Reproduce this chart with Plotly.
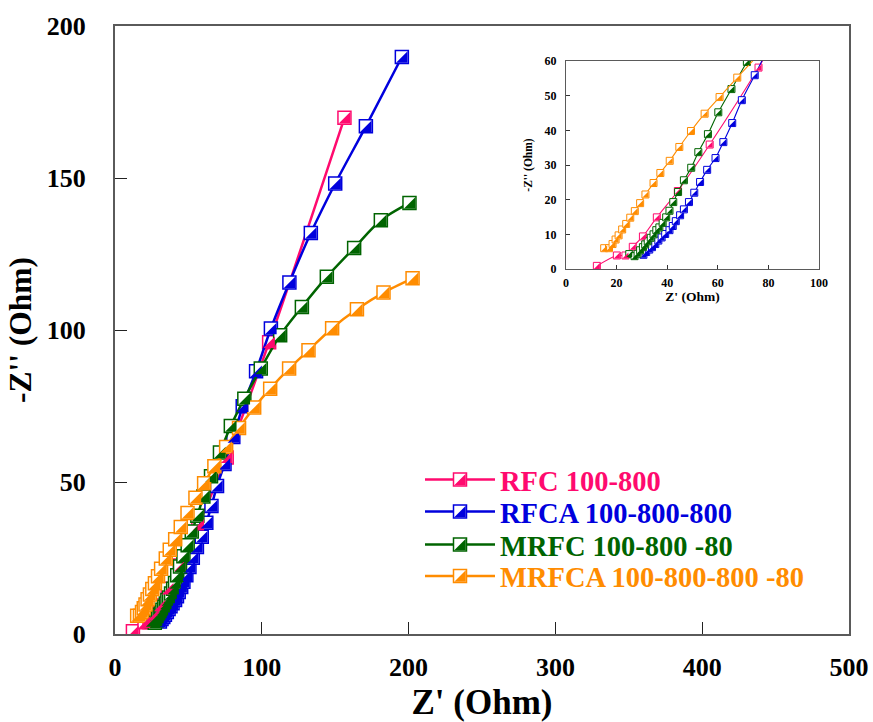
import plotly.graph_objects as go

# ---------------- data ----------------
series_names = ["RFC 100-800", "RFCA 100-800-800", "MRFC 100-800 -80", "MRFCA 100-800-800 -80"]
series_colors = ["#ff0a6e", "#0000dd", "#006400", "#ff8c00"]

rfc_x = [12.2, 20.1, 23.5, 26.4, 30.4, 35.9, 44.2, 56.8, 76.1, 105.0, 156.3]
rfc_y = [0.9, 3.9, 3.9, 6.4, 9.4, 14.9, 22.5, 35.9, 58.1, 96.0, 169.8]

rfca_x = [30.6, 31.7, 32.9, 34.0, 35.3, 36.5, 37.8, 39.2, 40.9, 42.2, 43.4, 45.1, 46.6, 48.6, 50.7,
          53.0, 55.8, 59.1, 62.2, 65.7, 69.5, 74.6, 80.6, 87.0, 96.1, 106.2, 118.8, 133.4, 150.0,
          170.9, 195.4]
rfca_y = [4.1, 4.9, 5.6, 6.3, 7.2, 8.2, 9.1, 10.1, 11.2, 12.4, 13.8, 15.5, 17.2, 19.3, 22.0,
          25.1, 28.6, 32.0, 36.6, 42.1, 48.7, 55.9, 64.8, 74.9, 86.4, 100.5, 115.6, 131.9, 148.2,
          167.0, 189.8]

mrfc_x = [25.0, 27.1, 28.3, 29.3, 30.4, 31.3, 32.3, 33.5, 34.6, 35.7, 36.9, 38.2, 39.6, 40.9, 42.4,
          44.3, 46.6, 49.5, 52.3, 56.1, 60.2, 65.4, 71.5, 78.9, 88.1, 99.3, 112.5, 127.3, 144.3,
          162.9, 181.1, 200.6]
mrfc_y = [4.3, 3.7, 4.4, 5.4, 6.3, 7.1, 8.0, 9.0, 10.0, 11.2, 12.0, 13.3, 14.9, 16.8, 19.3,
          22.2, 25.6, 29.2, 33.7, 38.9, 45.2, 51.9, 59.7, 68.4, 77.4, 87.3, 98.3, 107.6, 117.5,
          127.0, 136.1, 141.8]

mrfca_x = [15.1, 17.0, 18.4, 19.6, 20.8, 22.2, 23.8, 25.4, 27.2, 29.3, 31.4, 34.6, 37.3, 41.0, 44.8,
           49.4, 54.8, 60.7, 67.7, 75.7, 84.5, 94.8, 105.7, 118.6, 131.8, 147.9, 164.8, 182.9, 202.7]
mrfca_y = [6.0, 6.0, 7.2, 8.5, 9.7, 11.4, 13.0, 14.8, 16.7, 19.0, 21.5, 24.8, 27.7, 31.2, 35.2,
           39.8, 44.8, 49.6, 55.2, 61.5, 67.8, 74.5, 80.7, 87.3, 93.3, 100.6, 106.8, 112.3, 117.0]

main_x_ticks = [0, 100, 200, 300, 400, 500]
main_y_ticks = [0, 50, 100, 150, 200]
inset_x_ticks = [0, 20, 40, 60, 80, 100]
inset_y_ticks = [0, 10, 20, 30, 40, 50, 60]

xs = [rfc_x, rfca_x, mrfc_x, mrfca_x]
ys = [rfc_y, rfca_y, mrfc_y, mrfca_y]

# ---------------- layout geometry (page pixels, body margin removed) ----------------
W, H = 873, 722
PL, PR, PT, PB = 115, 849, 26, 634   # plot area on the page
ML, MT, MR, MB = PL, PT, W - PR, H - PB
PW, PH = PR - PL, PB - PT
MAIN_X = [0, 500]
MAIN_Y = [0, 200]
INSET_X = [0, 100]
INSET_Y = [0, 60]
IN_L, IN_R, IN_T, IN_B = 566, 819, 61, 269
IN_DX = [(IN_L - PL) / PW, (IN_R - PL) / PW]
IN_DY = [(PB - IN_B) / PH, (PB - IN_T) / PH]
IPW, IPH = IN_R - IN_L, IN_B - IN_T

FONT = "Liberation Serif"

# half-filled square markers: white square + right triangle (triangle-se),
# triangle-se of size s has legs 0.9*s and its right angle sits s/3.6 px
# from the centre, so it is drawn on overlay axes shifted by a few pixels.
S_MAIN, LW_MAIN = 13, 1.5
S_IN, LW_IN = 7, 1.0


def tri_size(s, lw):
    leg = s - lw
    return leg / 0.9, leg / 6.0  # marker size, pixel shift (right & down)


TS_MAIN, SH_MAIN = tri_size(S_MAIN, LW_MAIN)
TS_IN, SH_IN = tri_size(S_IN, LW_IN)

# legend rows (page y of each row's centre line)
LEG_ROWS = [480, 512, 545, 576.5]
LEG_LEFT = 420

fig = go.Figure()

for i in range(4):
    c = series_colors[i]
    fig.add_trace(go.Scatter(
        x=xs[i], y=ys[i], mode="lines+markers", xaxis="x", yaxis="y",
        name="<b><span style='color:%s'>%s</span></b>" % (c, series_names[i]),
        legend="legend" if i == 0 else "legend%d" % (i + 1),
        line=dict(color=c, width=2.5, shape="spline", smoothing=0.8),
        marker=dict(symbol="square", size=S_MAIN, color="white",
                    line=dict(color=c, width=LW_MAIN)),
        showlegend=True))
    fig.add_trace(go.Scatter(
        x=xs[i], y=ys[i], mode="lines+markers", xaxis="x2", yaxis="y2",
        line=dict(color=c, width=1.1, shape="spline", smoothing=0.8),
        marker=dict(symbol="square", size=S_IN, color="white",
                    line=dict(color=c, width=LW_IN)),
        showlegend=False))

for i in range(4):
    c = series_colors[i]
    fig.add_trace(go.Scatter(
        x=xs[i], y=ys[i], mode="markers", xaxis="x3", yaxis="y3",
        name="",
        legend="legend%d" % (i + 5),
        marker=dict(symbol="triangle-se", size=TS_MAIN, color=c, line=dict(width=0)),
        showlegend=True, hoverinfo="skip"))
    fig.add_trace(go.Scatter(
        x=xs[i], y=ys[i], mode="markers", xaxis="x4", yaxis="y4",
        marker=dict(symbol="triangle-se", size=TS_IN, color=c, line=dict(width=0)),
        showlegend=False, hoverinfo="skip"))

# pixel shifts converted to data units (shift right and down)
mdx = SH_MAIN * (MAIN_X[1] - MAIN_X[0]) / PW
mdy = SH_MAIN * (MAIN_Y[1] - MAIN_Y[0]) / PH
idx = SH_IN * (INSET_X[1] - INSET_X[0]) / IPW
idy = SH_IN * (INSET_Y[1] - INSET_Y[0]) / IPH

axis_line = dict(showline=True, linecolor="#5a5a5a", mirror=True, showgrid=False, zeroline=False,
                 automargin=False)


def legend_box(px, py):
    return dict(x=(px - PL) / PW, y=(PB - py) / PH, xanchor="left", yanchor="middle",
                bgcolor="rgba(0,0,0,0)", borderwidth=0, itemwidth=70,
                font=dict(size=28.5, family=FONT))


legends = {}
for i in range(4):
    key = "legend" if i == 0 else "legend%d" % (i + 1)
    legends[key] = legend_box(LEG_LEFT, LEG_ROWS[i])
    legends["legend%d" % (i + 5)] = legend_box(LEG_LEFT + SH_MAIN, LEG_ROWS[i] + SH_MAIN)

fig.update_layout(
    width=W, height=H, autosize=False,
    margin=dict(l=ML, r=MR, t=MT, b=MB, autoexpand=False),
    paper_bgcolor="white", plot_bgcolor="white",
    font=dict(family=FONT, color="black"),
    xaxis=dict(domain=[0, 1], range=MAIN_X, tickvals=main_x_ticks, ticks="inside", ticklen=12,
               tickwidth=1.2, tickcolor="#222", linewidth=2,
               tickfont=dict(size=26, family=FONT, weight="bold"), ticklabelstandoff=9,
               title=dict(text="Z' (Ohm)", font=dict(size=35, family=FONT, weight="bold"), standoff=23),
               **axis_line),
    yaxis=dict(domain=[0, 1], range=MAIN_Y, tickvals=main_y_ticks, ticks="inside", ticklen=12,
               tickwidth=1.2, tickcolor="#222", linewidth=2,
               tickfont=dict(size=26, family=FONT, weight="bold"), ticklabelstandoff=22,
               title=dict(text="-Z'' (Ohm)", font=dict(size=31.5, family=FONT, weight="bold"), standoff=6),
               **axis_line),
    xaxis2=dict(domain=IN_DX, anchor="y2", range=INSET_X, tickvals=inset_x_ticks, ticks="inside",
                ticklen=4, tickcolor="#333", linewidth=1.2,
                tickfont=dict(size=12, family=FONT, weight="bold"), ticklabelstandoff=2,
                title=dict(text="Z' (Ohm)", font=dict(size=13.5, family=FONT, weight="bold"), standoff=2),
                **axis_line),
    yaxis2=dict(domain=IN_DY, anchor="x2", range=INSET_Y, tickvals=inset_y_ticks, ticks="inside",
                ticklen=4, tickcolor="#333", linewidth=1.2,
                tickfont=dict(size=12, family=FONT, weight="bold"), ticklabelstandoff=6,
                title=dict(text="-Z'' (Ohm)", font=dict(size=11.5, family=FONT, weight="bold"), standoff=9),
                **axis_line),
    xaxis3=dict(overlaying="x", range=[MAIN_X[0] - mdx, MAIN_X[1] - mdx], visible=False, automargin=False),
    yaxis3=dict(overlaying="y", range=[MAIN_Y[0] + mdy, MAIN_Y[1] + mdy], visible=False, automargin=False),
    xaxis4=dict(overlaying="x2", range=[INSET_X[0] - idx, INSET_X[1] - idx], visible=False, automargin=False),
    yaxis4=dict(overlaying="y2", range=[INSET_Y[0] + idy, INSET_Y[1] + idy], visible=False, automargin=False),
    showlegend=True,
    **legends,
)

# the html page's default 8px body margin would shift and clip the figure
fig.write_html("out.html", config={"displayModeBar": False},
               post_script="document.body.style.margin='0';document.body.style.overflow='hidden';")
